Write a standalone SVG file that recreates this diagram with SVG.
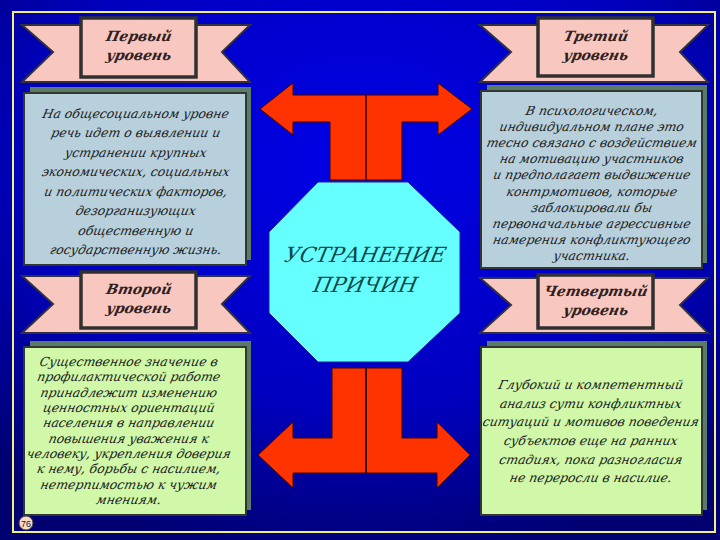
<svg xmlns="http://www.w3.org/2000/svg" width="720" height="540" viewBox="0 0 720 540">
<defs>
<radialGradient id="bg" cx="0.5" cy="0.3" r="0.75">
<stop offset="0" stop-color="#0000e8"/><stop offset="0.6" stop-color="#0000c0"/><stop offset="1" stop-color="#000070"/>
</radialGradient>
<style>
.tail{fill:#f8c8c0;stroke:#303040;stroke-width:2}
.rib{fill:#f8c8c0;stroke:#303030;stroke-width:3.5}
.rt{font-family:"DejaVu Serif",serif;font-style:italic;font-weight:bold;font-size:14px;fill:#302020;text-anchor:middle}
.sh{fill:#5a7a6a}
.bb{fill:#b8d0dc;stroke:#303830;stroke-width:2}
.bg2{fill:#d0f8a8;stroke:#303830;stroke-width:2}
.bt{font-family:"DejaVu Serif",serif;font-style:italic;font-size:12.5px;fill:#202020;text-anchor:middle}
.ct{font-family:"DejaVu Serif",serif;font-style:italic;font-size:21px;fill:#104848;text-anchor:middle}
.arr{fill:#ff3300;stroke:#400000;stroke-width:1}
</style>
</defs>
<rect width="720" height="540" fill="url(#bg)"/>
<rect x="13" y="12" width="702" height="520" fill="none" stroke="#f0f080" stroke-width="2"/>

<g id="connectors">
<path class="arr" d="M260,109 L293,83 L293,95 L438,95 L438,83 L472,109 L438,135 L438,122 L402,122 L402,180 L330,180 L330,122 L293,122 L293,135 Z"/>
<line x1="366" y1="95" x2="366" y2="180" stroke="#400000" stroke-width="1.5"/>
<path class="arr" d="M258,455 L293,422 L293,438 L332,438 L332,368 L402,368 L402,438 L437,438 L437,422 L470,455 L437,488 L437,473 L293,473 L293,488 Z"/>
<line x1="366" y1="368" x2="366" y2="473" stroke="#400000" stroke-width="2"/>
</g>

<g id="center">
<polygon points="318,182 408,182 460,232 460,313 408,362 318,362 269,313 269,232" fill="#66ffff" stroke="#2020a0" stroke-width="1"/>
<text class="ct" transform="translate(364,262) skewX(-12)">УСТРАНЕНИЕ</text>
<text class="ct" transform="translate(364,292) skewX(-12)">ПРИЧИН</text>
</g>

<g id="level1">
<polygon class="tail" points="22,25 250,25 222,52 250,82 22,82 53,52"/>
<rect class="rib" x="81" y="18" width="115" height="59"/>
<text class="rt" transform="translate(138,41) skewX(-12)">Первый</text><text class="rt" transform="translate(138,60) skewX(-12)">уровень</text>
<rect class="sh" x="30" y="87" width="221" height="173"/>
<rect class="bb" x="24" y="93" width="222" height="172"/>
<g class="bt">
<text transform="translate(135,118) skewX(-12)">На общесоциальном уровне</text>
<text transform="translate(135,137) skewX(-12)">речь идет о выявлении и</text>
<text transform="translate(135,157) skewX(-12)">устранении крупных</text>
<text transform="translate(135,176) skewX(-12)">экономических, социальных</text>
<text transform="translate(135,196) skewX(-12)">и политических факторов,</text>
<text transform="translate(135,215) skewX(-12)">дезорганизующих</text>
<text transform="translate(135,235) skewX(-12)">общественную и</text>
<text transform="translate(135,254) skewX(-12)">государственную жизнь.</text>
</g>
</g>

<g id="level2">
<polygon class="tail" points="22,276 250,276 222,304 250,333 22,333 53,304"/>
<rect class="rib" x="81" y="272" width="115" height="56"/>
<text class="rt" transform="translate(138,294) skewX(-12)">Второй</text><text class="rt" transform="translate(138,313) skewX(-12)">уровень</text>
<rect class="sh" x="30" y="341" width="221" height="169"/>
<rect class="bg2" x="24" y="347" width="222" height="168"/>
<g class="bt">
<text transform="translate(128,366) skewX(-12)">Существенное значение в</text>
<text transform="translate(128,381) skewX(-12)">профилактической работе</text>
<text transform="translate(128,397) skewX(-12)">принадлежит изменению</text>
<text transform="translate(128,412) skewX(-12)">ценностных ориентаций</text>
<text transform="translate(128,427) skewX(-12)">населения в направлении</text>
<text transform="translate(128,443) skewX(-12)">повышения уважения к</text>
<text transform="translate(128,458) skewX(-12)">человеку, укрепления доверия</text>
<text transform="translate(128,473) skewX(-12)">к нему, борьбы с насилием,</text>
<text transform="translate(128,489) skewX(-12)">нетерпимостью к чужим</text>
<text transform="translate(128,504) skewX(-12)">мнениям.</text>
</g>
<circle cx="26" cy="523" r="7" fill="#f8d8c8" stroke="#404040"/>
<text x="26" y="526.5" font-family="Liberation Sans,sans-serif" font-size="9" fill="#202020" text-anchor="middle">76</text>
</g>

<g id="level3">
<polygon class="tail" points="480,25 708,25 680,52 708,82 480,82 511,52"/>
<rect class="rib" x="538" y="18" width="115" height="58"/>
<text class="rt" transform="translate(595,41) skewX(-12)">Третий</text><text class="rt" transform="translate(595,60) skewX(-12)">уровень</text>
<rect class="sh" x="487" y="85" width="220" height="178"/>
<rect class="bb" x="481" y="91" width="221" height="177"/>
<g class="bt">
<text transform="translate(591,115) skewX(-12)">В психологическом,</text>
<text transform="translate(591,131) skewX(-12)">индивидуальном плане это</text>
<text transform="translate(591,147) skewX(-12)">тесно связано с воздействием</text>
<text transform="translate(591,163) skewX(-12)">на мотивацию участников</text>
<text transform="translate(591,179) skewX(-12)">и предполагает выдвижение</text>
<text transform="translate(591,196) skewX(-12)">контрмотивов, которые</text>
<text transform="translate(591,212) skewX(-12)">заблокировали бы</text>
<text transform="translate(591,228) skewX(-12)">первоначальные агрессивные</text>
<text transform="translate(591,244) skewX(-12)">намерения конфликтующего</text>
<text transform="translate(591,260) skewX(-12)">участника.</text>
</g>
</g>

<g id="level4">
<polygon class="tail" points="480,278 708,278 680,305 708,333 480,333 511,305"/>
<rect class="rib" x="538" y="275" width="115" height="53"/>
<text class="rt" transform="translate(595,296) skewX(-12)">Четвертый</text><text class="rt" transform="translate(595,315) skewX(-12)">уровень</text>
<rect class="sh" x="487" y="341" width="220" height="169"/>
<rect class="bg2" x="481" y="347" width="221" height="168"/>
<g class="bt">
<text transform="translate(590,389) skewX(-12)">Глубокий и компетентный</text>
<text transform="translate(590,408) skewX(-12)">анализ сути конфликтных</text>
<text transform="translate(590,426) skewX(-12)">ситуаций и мотивов поведения</text>
<text transform="translate(590,445) skewX(-12)">субъектов еще на ранних</text>
<text transform="translate(590,464) skewX(-12)">стадиях, пока разногласия</text>
<text transform="translate(590,482) skewX(-12)">не переросли в насилие.</text>
</g>
</g>
</svg>
